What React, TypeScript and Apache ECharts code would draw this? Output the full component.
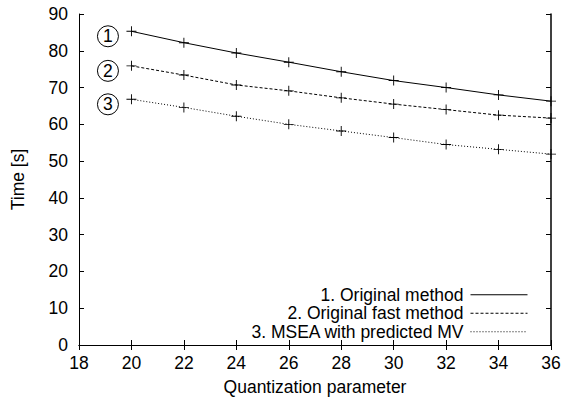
import { useEffect, useRef } from 'react';
import * as echarts from 'echarts';

const qp = [20, 22, 24, 26, 28, 30, 32, 34, 36];
const original = [85.3, 82.2, 79.4, 76.9, 74.3, 71.9, 70.0, 68.0, 66.3];
const originalFast = [75.9, 73.4, 70.7, 69.1, 67.2, 65.5, 64.0, 62.5, 61.7];
const msea = [66.8, 64.6, 62.2, 60.0, 58.2, 56.4, 54.5, 53.2, 51.9];
const seriesNames = ['1. Original method', '2. Original fast method', '3. MSEA with predicted MV'];
const circleLabels = ['1', '2', '3'];
const lineTypes: any[] = ['solid', [3, 2], [1, 2]];
const xName = 'Quantization parameter';
const yName = 'Time [s]';

const FONT = 'Liberation Sans, Arial, Helvetica, sans-serif';
const FS = 17.5;
const PLUS = 'path://M5,0H6V5H11V6H6V11H5V6H0V5H5Z';

export default function App() {
  const ref = useRef<HTMLDivElement>(null);
  useEffect(() => {
    if (!ref.current) return;
    const chart = echarts.init(ref.current, null, { renderer: 'svg' });
    const allData = [original, originalFast, msea];
    const series = allData.map((vals, i) => ({
      name: seriesNames[i],
      type: 'line',
      xAxisIndex: 0,
      yAxisIndex: 0,
      data: qp.map((x, j) => {
        const pt: any = { value: [x, vals[j]] };
        if (j === 0) {
          pt.label = {
            show: true,
            position: 'left',
            distance: 8,
            offset: [0, 5],
            formatter: '{c|' + circleLabels[i] + '}',
            rich: {
              c: {
                width: 21,
                height: 21,
                borderRadius: 11,
                borderColor: '#000',
                borderWidth: 1,
                align: 'center',
                verticalAlign: 'middle',
                fontSize: FS,
                fontFamily: FONT,
                color: '#000',
                lineHeight: 22,
              },
            },
          };
        }
        return pt;
      }),
      symbol: PLUS,
      symbolSize: 10,
      showAllSymbol: true,
      itemStyle: { color: '#000' },
      lineStyle: { color: '#000', width: 1, type: lineTypes[i] },
      emphasis: { disabled: true },
    }));
    chart.setOption({
      animation: false,
      backgroundColor: '#fff',
      grid: { left: 79, right: 13, top: 14, bottom: 60, containLabel: false },
      legend: {
        orient: 'vertical',
        right: 36,
        bottom: 64,
        align: 'right',
        itemWidth: 57,
        itemHeight: 14,
        itemGap: 0,
        padding: 0,
        itemStyle: { opacity: 0 },
        lineStyle: { width: 1 },
        textStyle: { fontFamily: FONT, fontSize: FS, color: '#000', lineHeight: 18.5, padding: [0, 2, 0, 0] },
        data: seriesNames,
      },
      xAxis: [
        {
          type: 'value',
          min: 18,
          max: 36,
          interval: 2,
          name: xName,
          nameLocation: 'middle',
          nameGap: 33,
          nameTextStyle: { fontFamily: FONT, fontSize: FS, color: '#000' },
          axisLine: { lineStyle: { color: '#000', width: 1 } },
          axisTick: { inside: true, length: 5, lineStyle: { color: '#000' } },
          axisLabel: { fontFamily: FONT, fontSize: FS, color: '#000', margin: 9 },
          splitLine: { show: false },
        },
        {
          type: 'value',
          position: 'top',
          min: 18,
          max: 36,
          interval: 2,
          axisLine: { lineStyle: { color: '#000', width: 1 } },
          axisTick: { inside: true, length: 5, lineStyle: { color: '#000' } },
          axisLabel: { show: false },
          splitLine: { show: false },
        },
      ],
      yAxis: [
        {
          type: 'value',
          min: 0,
          max: 90,
          interval: 10,
          name: yName,
          nameLocation: 'middle',
          nameGap: 52,
          nameRotate: 90,
          nameTextStyle: { fontFamily: FONT, fontSize: FS, color: '#000' },
          axisLine: { show: true, lineStyle: { color: '#000', width: 1 } },
          axisTick: { show: true, inside: true, length: 5, lineStyle: { color: '#000' } },
          axisLabel: { fontFamily: FONT, fontSize: FS, color: '#000', margin: 11 },
          splitLine: { show: false },
        },
        {
          type: 'value',
          position: 'right',
          min: 0,
          max: 90,
          interval: 10,
          axisLine: { show: true, lineStyle: { color: '#000', width: 1.5 } },
          axisTick: { show: true, inside: true, length: 5, lineStyle: { color: '#000' } },
          axisLabel: { show: false },
          splitLine: { show: false },
        },
      ],
      series,
    });
    return () => chart.dispose();
  }, []);
  return <div ref={ref} style={{ width: 564, height: 405, position: 'absolute', left: 0, top: 0 }} />;
}
